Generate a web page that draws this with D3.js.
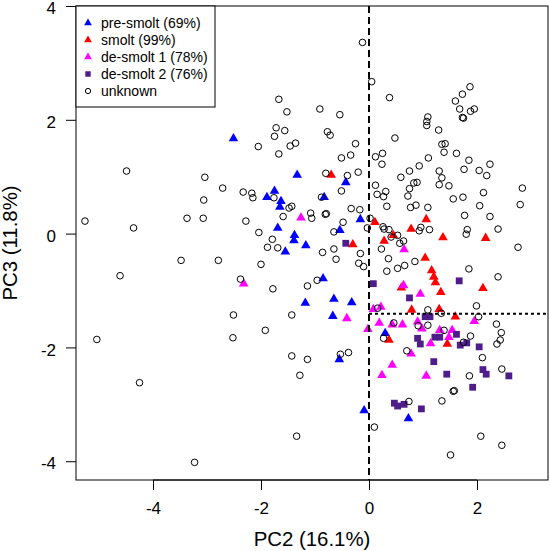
<!DOCTYPE html>
<html><head><meta charset="utf-8">
<script src="https://cdn.jsdelivr.net/npm/d3@7"></script>
<style>body{margin:0;background:#fff}svg{display:block}text{font-family:"Liberation Sans",Arial,sans-serif}</style>
</head><body>
<svg id="c" width="550" height="551"></svg>
<script>
const xTicks = [-4, -2, 0, 2];
const yTicks = [-4, -2, 0, 2, 4];
const xTitle = "PC2 (16.1%)";
const yTitle = "PC3 (11.8%)";
const legendLabels = ["pre-smolt (69%)", "smolt (99%)", "de-smolt 1 (78%)", "de-smolt 2 (76%)", "unknown"];
const vLineX = 0;
const hLineY = -1.41;

const preSmolt = [[-2.51,1.67],[-1.33,1.03],[-0.43,0.90],[-1.75,0.75],[-1.89,0.64],[-1.63,0.57],[-1.65,0.47],[-0.83,0.64],[-0.16,0.25],[-1.69,0.10],[-0.54,0.06],[-1.38,-0.03],[-1.39,-0.12],[-1.17,-0.21],[-1.55,-0.32],[-0.85,-0.79],[-1.18,-1.22],[-0.65,-1.15],[-0.32,-1.21],[-0.67,-1.45],[-0.55,-2.21],[-0.09,-3.11],[0.30,-1.75],[0.73,-3.25]];
const smolt = [[-0.70,1.03],[-0.30,-0.19],[0.11,0.20],[1.06,0.25],[0.78,0.08],[0.28,-0.13],[0.45,-0.03],[1.37,-0.07],[2.16,-0.08],[1.04,-0.43],[1.16,-0.65],[1.20,-0.76],[1.23,-0.86],[1.33,-1.03],[2.11,-0.96],[0.60,-0.95],[0.79,-1.34],[1.30,-1.33],[1.60,-1.46],[0.37,-1.87],[1.45,-1.94]];
const deSmolt1 = [[-1.26,0.28],[-2.32,-0.88],[-0.41,-1.49],[-0.02,-1.68],[0.65,-0.28],[0.64,-0.91],[0.95,-1.06],[0.08,-1.33],[0.22,-1.29],[1.95,-1.54],[0.19,-1.57],[0.43,-1.60],[0.62,-1.60],[0.90,-1.55],[0.98,-1.67],[1.31,-1.70],[1.54,-1.70],[1.14,-1.93],[1.48,-1.82],[0.78,-2.11],[0.43,-2.31],[0.24,-2.49],[1.06,-2.50]];
const deSmolt2 = [[-0.43,-0.17],[0.08,-0.88],[1.67,-0.83],[0.75,-1.13],[1.04,-1.46],[1.13,-1.46],[1.62,-1.77],[0.90,-1.84],[0.95,-1.94],[1.22,-1.82],[1.31,-1.82],[1.69,-1.96],[1.81,-1.92],[2.04,-1.99],[1.20,-2.25],[1.44,-2.47],[2.11,-2.39],[2.17,-2.47],[2.59,-2.50],[1.92,-2.70],[0.47,-2.98],[0.53,-3.03],[0.65,-3.00],[0.97,-3.08]];
const unknown = [
[-4.49,1.10],[-3.04,0.99],[-3.06,0.59],[-5.26,0.22],[-3.37,0.27],[-3.07,0.27],[-4.36,0.10],[-3.48,-0.47],[-2.79,-0.47],[-4.61,-0.74],
[-5.04,-1.86],[-4.25,-2.62],[-3.23,-4.02],
[-0.12,3.36],[-1.67,2.36],[-1.52,2.14],[-0.91,2.19],[0.05,2.67],
[0.38,2.39],[1.87,2.58],[1.73,2.45],[1.60,2.33],[1.68,2.19],[1.95,2.19],[1.88,2.15],[1.73,2.04],[1.75,2.03],[1.09,2.05],[1.07,1.97],[1.07,1.90],[1.29,1.82],[0.48,1.68],
[1.35,1.57],[1.41,1.58],[1.39,1.43],[1.62,1.41],[1.85,1.29],[2.24,1.22],[0.25,1.41],[0.12,1.35],[0.24,1.22],[1.10,1.33],[0.93,1.19],[0.75,1.10],[0.59,0.99],[1.30,1.10],[1.76,1.13],[2.04,1.11],[2.18,1.02],[1.35,0.98],[0.83,0.89],[0.89,0.90],[1.30,0.86],[1.48,0.84],[0.75,0.79],[0.12,0.85],[0.31,0.74],[0.15,0.69],[0.27,0.65],[0.72,0.66],[2.12,0.72],[2.84,0.80],[1.56,0.61],[1.74,0.64],[0.33,0.48],[0.77,0.46],[0.87,0.50],[1.09,0.46],[2.05,0.49],[2.80,0.51],[1.77,0.32],[2.24,0.30],[0.02,0.27],[-0.03,0.10],[0.26,0.12],[0.28,0.08],[0.37,0.07],[0.41,-0.06],[0.53,-0.03],[0.57,-0.17],[0.64,-0.13],[0.96,0.11],[0.93,0.05],[1.12,0.07],[1.82,0.07],[1.80,-0.01],[2.39,0.08],[2.76,-0.24],[0.23,-0.27],[0.36,-0.44],[0.85,-0.49],[0.33,-0.66],[0.53,-0.61],[0.66,-0.56],[1.85,-0.62],[2.39,-0.76],
[0.16,-1.31],[1.09,-1.34],[1.34,-1.40],[1.99,-1.27],[2.03,-1.46],[2.36,-1.59],[2.45,-1.74],[2.43,-1.87],[2.37,-1.94],[0.46,-1.57],[0.27,-1.84],[0.91,-1.62],[1.09,-1.61],[1.39,-1.70],[1.75,-1.91],[1.88,-1.80],[0.70,-2.06],[2.10,-2.18],[1.86,-2.50],[2.46,-2.38],[1.56,-2.77],[1.58,-2.76],[1.35,-2.94],[0.74,-2.95],[0.10,-3.40],[2.07,-3.56],[2.46,-3.72],[1.51,-3.89],
[-0.54,2.09],[-1.72,1.86],[-1.56,1.81],[-1.75,1.71],[-0.77,1.79],[-0.72,1.73],[-2.05,1.53],[-1.46,1.54],[-1.36,1.59],[-1.67,1.40],[-0.25,1.58],[-0.34,1.38],[-0.51,1.33],[-0.80,1.06],[-0.40,1.02],[-0.20,1.08],[-2.71,0.80],[-2.33,0.73],[-2.17,0.71],[-2.15,0.63],[-1.76,0.63],[-0.51,0.75],[-0.88,0.64],[-1.48,0.45],[-1.43,0.48],[-1.59,0.30],[-1.08,0.36],[-1.06,0.27],[-0.81,0.34],[-0.79,0.35],[-0.33,0.44],[-0.17,0.42],[-2.28,0.22],[-2.04,0.02],[-1.79,-0.10],[-1.88,-0.24],[-1.69,-0.25],[-0.48,0.20],[-0.65,0.03],[-0.65,-0.27],[-0.61,-0.45],[-0.86,-0.33],[-0.16,-0.35],[-0.19,-0.52],[-0.10,-0.58],[-2.00,-0.54],[-2.38,-0.80],[-1.78,-0.97],[-1.14,-0.92],[-0.96,-0.82],
[-2.51,-1.43],[-1.43,-1.43],[-1.92,-1.70],[-2.52,-1.83],[-1.43,-2.15],[-1.14,-2.21],[-0.53,-2.12],[-0.38,-2.09],[-1.28,-2.49],[-1.34,-3.56]
];

const groups = [
  {data: preSmolt, shape: "tri", color: "#0000FF"},
  {data: smolt, shape: "tri", color: "#FF0000"},
  {data: deSmolt1, shape: "tri", color: "#FF00FF"},
  {data: deSmolt2, shape: "sq", color: "#4F1C8C"},
  {data: unknown, shape: "circ", color: "#000000"}
];

const L = 76, R = 548, T = 6, B = 480;
const x = d3.scaleLinear().domain([-5.426, 3.315]).range([L, R]);
const y = d3.scaleLinear().domain([-4.33, 4.0]).range([B, T]);
const svg = d3.select("#c");

function drawShape(g, shape, color, s) {
  if (shape === "tri") {
    const side = 9.6 * s, h = side * 0.866;
    g.append("path").attr("d", `M0,${-h*2/3}L${side/2},${h/3}L${-side/2},${h/3}Z`).attr("fill", color);
  } else if (shape === "sq") {
    const a = 6.8 * s;
    g.append("rect").attr("x", -a/2).attr("y", -a/2).attr("width", a).attr("height", a).attr("fill", color);
  } else {
    g.append("circle").attr("r", 3.3 * s).attr("fill", "none").attr("stroke", color).attr("stroke-width", 1);
  }
}

svg.append("clipPath").attr("id", "pc").append("rect").attr("x", L).attr("y", T).attr("width", R-L).attr("height", B-T);
const plot = svg.append("g").attr("clip-path", "url(#pc)");

groups.forEach(gr => {
  gr.data.forEach(d => {
    const g = plot.append("g").attr("transform", `translate(${x(d[0])},${y(d[1])})`);
    drawShape(g, gr.shape, gr.color, 1);
  });
});

plot.append("line").attr("x1", x(vLineX)).attr("x2", x(vLineX)).attr("y1", T).attr("y2", B)
  .attr("stroke", "#000").attr("stroke-width", 2).attr("stroke-dasharray", "7,4");
plot.append("line").attr("x1", x(vLineX)).attr("x2", R).attr("y1", y(hLineY)).attr("y2", y(hLineY))
  .attr("stroke", "#000").attr("stroke-width", 2).attr("stroke-dasharray", "3,3");

// frame
svg.append("rect").attr("x", L).attr("y", T).attr("width", R-L).attr("height", B-T)
  .attr("fill", "none").attr("stroke", "#000").attr("stroke-width", 1);

// axes
const xAxis = svg.append("g").attr("transform", `translate(0,${B})`)
  .call(d3.axisBottom(x).tickValues(xTicks).tickSize(10).tickPadding(12).tickFormat(d => String(d)));
const yAxis = svg.append("g").attr("transform", `translate(${L},0)`)
  .call(d3.axisLeft(y).tickValues(yTicks).tickSize(10).tickPadding(10).tickFormat(d => String(d)));
[xAxis, yAxis].forEach(a => {
  a.select(".domain").remove();
  a.selectAll("text").attr("font-size", 17).attr("fill", "#000").attr("font-family", '"Liberation Sans",Arial,sans-serif');
  a.selectAll("line").attr("stroke", "#000");
});
xAxis.selectAll("text").attr("dy", "0.71em");
yAxis.selectAll("text").attr("dy", "0.45em");
svg.append("line").attr("x1", x(xTicks[0])).attr("x2", x(xTicks[xTicks.length-1])).attr("y1", B).attr("y2", B).attr("stroke", "#000");

svg.append("text").attr("x", (L+R)/2).attr("y", 546).attr("text-anchor", "middle").attr("font-size", 20.4).text(xTitle);
svg.append("text").attr("transform", `translate(17,${(T+B)/2}) rotate(-90)`).attr("text-anchor", "middle").attr("font-size", 20.4).text(yTitle);

// legend
const lg = svg.append("g");
lg.append("rect").attr("x", L).attr("y", T).attr("width", 139).attr("height", 101).attr("fill", "#fff").attr("stroke", "#000");
legendLabels.forEach((lab, i) => {
  const yy = 23 + i * 17;
  const g = lg.append("g").attr("transform", `translate(88,${yy})`);
  drawShape(g, groups[i].shape, groups[i].color, 0.8);
  lg.append("text").attr("x", 101).attr("y", yy).attr("dy", "0.35em").attr("font-size", 14).text(lab);
});
</script>
</body></html>
